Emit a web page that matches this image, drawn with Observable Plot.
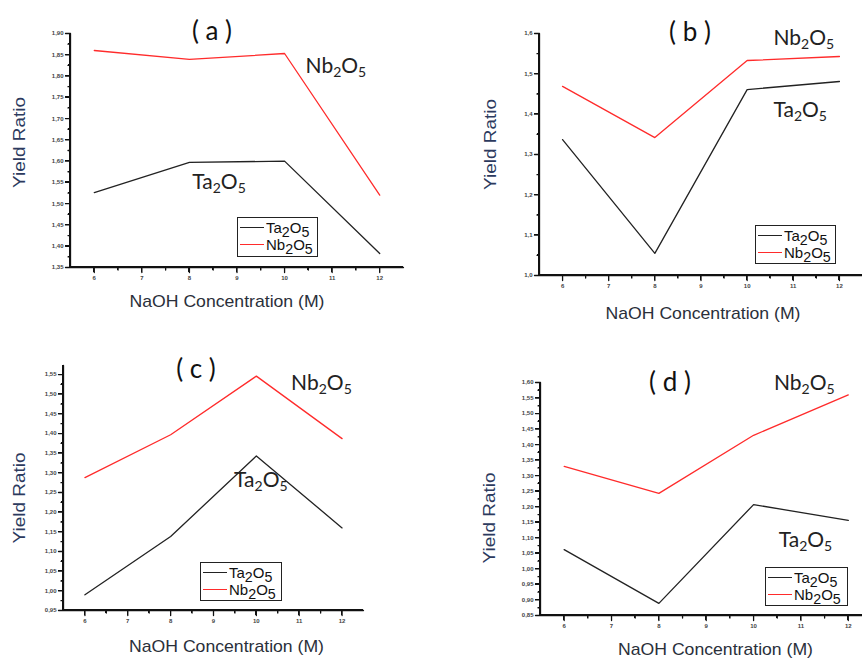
<!DOCTYPE html>
<html><head><meta charset="utf-8">
<script src="https://cdn.jsdelivr.net/npm/d3@7"></script>
<script src="https://cdn.jsdelivr.net/npm/@observablehq/plot@0.6"></script>
<style>
body{margin:0;background:#fff;}
#root{position:relative;width:862px;height:658px;overflow:hidden;background:#fff;font-family:"Liberation Sans",Arial,sans-serif;}
.panel{position:absolute;}
.title{position:absolute;width:80px;height:32px;line-height:32px;text-align:center;font-family:Lato,"Open Sans",sans-serif;font-size:26px;color:#111;white-space:pre;}
.legend{position:absolute;border:1.5px solid #222;background:#fff;box-sizing:border-box;font-size:15px;color:#111;padding:1px 2px;line-height:16px;}
.legend .row{display:flex;align-items:center;height:17px;}
.legend .sw{width:24px;height:0;border-top:1.6px solid;margin-right:2px;}
.legend sub{font-size:95%;vertical-align:-4px;line-height:0;}
.ax{position:absolute;box-sizing:content-box;z-index:5;pointer-events:none;}
</style></head><body><div id="root"></div><script>
// ---- data ----
const concentration = [6, 8, 10, 12];
const ta_a = [1.526, 1.597, 1.600, 1.383];
const nb_a = [1.860, 1.839, 1.853, 1.520];
const ta_b = [1.337, 1.055, 1.461, 1.481];
const nb_b = [1.469, 1.342, 1.533, 1.543];
const ta_c = [0.990, 1.138, 1.343, 1.160];
const nb_c = [1.288, 1.397, 1.546, 1.387];
const ta_d = [1.062, 0.889, 1.207, 1.156];
const nb_d = [1.330, 1.243, 1.430, 1.560];
const seriesNames = ["Ta2O5", "Nb2O5"];
const panelTitles = ["( a )", "( b )", "( c )", "( d )"];
const xTicks = [6, 7, 8, 9, 10, 11, 12];
const yTicks_a = [1.35, 1.40, 1.45, 1.50, 1.55, 1.60, 1.65, 1.70, 1.75, 1.80, 1.85, 1.90];
const yTicks_b = [1.0, 1.1, 1.2, 1.3, 1.4, 1.5, 1.6];
const yTicks_c = [0.95, 1.00, 1.05, 1.10, 1.15, 1.20, 1.25, 1.30, 1.35, 1.40, 1.45, 1.50, 1.55];
const yTicks_d = [0.85, 0.90, 0.95, 1.00, 1.05, 1.10, 1.15, 1.20, 1.25, 1.30, 1.35, 1.40, 1.45, 1.50, 1.55, 1.60];
const xLabel = "NaOH Concentration (M)";
const yLabel = "Yield Ratio";
// annotation labels in data units: [x, y] for Nb2O5, then Ta2O5
const notes_a = [[10.44, 1.822], [8.06, 1.55]];
const notes_b = [[10.57, 1.588], [10.57, 1.409]];
const notes_c = [[10.81, 1.527], [9.48, 1.281]];
const notes_d = [[10.43, 1.597], [10.53, 1.091]];

const COLORS = ["#222222", "#ff2b2b"];
const AXIS = "axis";
const root = document.getElementById("root");

const panels = [
  {ta: ta_a, nb: nb_a, yTicks: yTicks_a, fmt: ".2f", yDomain: [1.35, 1.90], xDomain: [5.5, 12.5], notes: notes_a,
   left: 0, top: 0, width: 430, height: 320, mL: 70, mR: 27, mT: 33, mB: 53,
   yOff: 58, yDy: -8, xOff: 39, xDx: -10,
   title: [212, 30], legend: [237, 217, 81, 40]},
  {ta: ta_b, nb: nb_b, yTicks: yTicks_b, fmt: ".1f", yDomain: [1.0, 1.6], xDomain: [5.5, 12.5], notes: notes_b,
   left: 440, top: 0, width: 422, height: 330, mL: 99, mR: 0, mT: 33, mB: 55,
   yOff: 56, yDy: -10, xOff: 43, xDx: 2,
   title: [690, 31], legend: [755, 225, 81, 39]},
  {ta: ta_c, nb: nb_c, yTicks: yTicks_c, fmt: ".2f", yDomain: [0.95, 1.573], xDomain: [5.5, 12.5], notes: notes_c,
   left: 0, top: 340, width: 430, height: 318, mL: 63, mR: 67, mT: 25, mB: 48,
   yOff: 51, yDy: 10, xOff: 41, xDx: 13,
   title: [196, 368], legend: [200, 562, 82, 39]},
  {ta: ta_d, nb: nb_d, yTicks: yTicks_d, fmt: ".2f", yDomain: [0.85, 1.60], xDomain: [5.5, 12.3], notes: notes_d,
   left: 440, top: 340, width: 422, height: 318, mL: 100, mR: 0, mT: 42, mB: 43,
   yOff: 58, yDy: 19, xOff: 39, xDx: 14,
   title: [670, 381], legend: [765, 567, 83, 39]}
];

function subHTML(s) {
  return s.replace(/(\D)(\d)/g, "$1<sub>$2</sub>");
}
function box(l, t, w, h, css) {
  const d = document.createElement("div");
  d.className = "ax";
  d.style.left = l + "px"; d.style.top = t + "px";
  d.style.width = w + "px"; d.style.height = h + "px";
  Object.assign(d.style, css);
  root.appendChild(d);
}

panels.forEach((p, idx) => {
  const rows = concentration.flatMap((x, i) => [
    {x, y: p.ta[i], s: seriesNames[0]},
    {x, y: p.nb[i], s: seriesNames[1]}
  ]);
  const step = p.yTicks[1] - p.yTicks[0];
  const yMinor = p.yTicks.slice(0, -1).map(v => +(v + step / 2).toFixed(4));
  const xMinor = xTicks.slice(0, -1).map(v => v + 0.5);
  const fmt = v => d3.format(p.fmt)(v).replace(".", ",");
  const notes = [
    {x: p.notes[0][0], y: p.notes[0][1], t: seriesNames[1]},
    {x: p.notes[1][0], y: p.notes[1][1], t: seriesNames[0]}
  ];
  const pxX = (p.width - p.mL - p.mR) / (p.xDomain[1] - p.xDomain[0]);
  const pxY = (p.height - p.mT - p.mB) / (p.yDomain[1] - p.yDomain[0]);
  const x0 = p.xDomain[0], y0 = p.yDomain[0];
  const yAll = [...p.yTicks.map(v => [v, 5]), ...yMinor.map(v => [v, 2.5])].sort((a, b) => b[0] - a[0]);
  const xAll = [...xTicks.map(v => [v, 5]), ...xMinor.map(v => [v, 2.5])]
    .filter(([v]) => v <= p.xDomain[1]).sort((a, b) => a[0] - b[0]);
  const axisPts = [{x: x0, y: p.yDomain[1]}];
  yAll.forEach(([v, len]) => { axisPts.push({x: x0, y: v}, {x: x0 - len / pxX, y: v}, {x: x0, y: v}); });
  axisPts.push({x: x0, y: y0});
  xAll.forEach(([v, len]) => { axisPts.push({x: v, y: y0}, {x: v, y: y0 - len / pxY}, {x: v, y: y0}); });
  axisPts.push({x: p.xDomain[1], y: y0});
  axisPts.forEach(d => { d.s = AXIS; });

  const chart = Plot.plot({
    width: p.width, height: p.height,
    marginLeft: p.mL, marginRight: p.mR, marginTop: p.mT, marginBottom: p.mB,
    style: {fontFamily: "'Liberation Sans', Arial, sans-serif", background: "transparent", overflow: "visible"},
    x: {domain: p.xDomain},
    y: {domain: p.yDomain},
    color: {domain: [...seriesNames, AXIS], range: [...COLORS, "#111111"]},
    marks: [
      Plot.axisY(p.yTicks, {tickSize: 0, tickPadding: 7, tickFormat: fmt, fontSize: 6, fontWeight: "bold",
        fill: "#444", label: null}),
      Plot.axisX(xTicks, {tickSize: 0, tickPadding: 8, tickFormat: d => String(d), fontSize: 6, fontWeight: "bold",
        fill: "#444", label: null}),
      Plot.line(axisPts, {x: "x", y: "y", z: "s", stroke: "s", strokeWidth: 1.3, strokeLinejoin: "round"}),
      Plot.line(rows, {x: "x", y: "y", z: "s", stroke: "s", strokeWidth: 1.3}),
      Plot.text(notes, {x: "x", y: "y", text: "t", textAnchor: "start", lineAnchor: "middle", fontSize: 21,
        fontFamily: "Lato, 'Open Sans', sans-serif", fill: "#222"}),
      Plot.text([yLabel], {frameAnchor: "left", dx: -p.yOff, dy: p.yDy, rotate: -90, text: d => d, fontSize: 17,
        fill: "#2c3a5e", textAnchor: "middle", lineAnchor: "top"}),
      Plot.text([xLabel], {frameAnchor: "bottom", dx: p.xDx, dy: p.xOff, text: d => d, fontSize: 17,
        fill: "#2a2f3a", textAnchor: "middle", lineAnchor: "bottom"})
    ]
  });
  chart.classList.add("panel");
  chart.style.left = p.left + "px";
  chart.style.top = p.top + "px";
  const ns = "http://www.w3.org/2000/svg";
  chart.querySelectorAll("text").forEach(t => {
    const s = t.textContent;
    if (/^(Nb|Ta)2O5$/.test(s)) {
      t.textContent = "";
      const parts = [[s.slice(0, 2), 0], ["2", 4], ["O", -4], ["5", 4]];
      parts.forEach(([str, dy]) => {
        const ts = document.createElementNS(ns, "tspan");
        ts.textContent = str;
        if (dy) ts.setAttribute("dy", dy);
        if (str === "2" || str === "5") ts.setAttribute("font-size", "14");
        t.appendChild(ts);
      });
    } else if (s === yLabel) {
      t.setAttribute("textLength", 91);
      t.setAttribute("lengthAdjust", "spacingAndGlyphs");
    } else if (s === xLabel) {
      t.setAttribute("textLength", 195);
      t.setAttribute("lengthAdjust", "spacingAndGlyphs");
    }
  });
  root.appendChild(chart);

  // axis lines and tick marks overlaid, positioned through the chart's own scales
  const sx = chart.scale("x"), sy = chart.scale("y");
  const fx = p.left + sx.apply(x0), fyTop = p.top + sy.apply(p.yDomain[1]);
  const fyBot = p.top + sy.apply(y0), fxRight = p.left + sx.apply(p.xDomain[1]);
  box(fx - 0.75, fyTop, 0, fyBot - fyTop, {borderLeft: "1.5px solid #111"});
  box(fx - 0.75, fyBot - 0.75, fxRight - fx + 0.75, 0, {borderTop: "1.5px solid #111"});
  yAll.forEach(([v, len]) => {
    const yy = p.top + sy.apply(v);
    box(fx - len, yy - 0.5, len, 0, {borderTop: "1px solid #111"});
  });
  xAll.forEach(([v, len]) => {
    const xx = p.left + sx.apply(v);
    box(xx - 0.5, fyBot, 0, len, {borderLeft: "1px solid #111"});
  });

  const title = document.createElement("div");
  title.className = "title";
  title.textContent = panelTitles[idx];
  title.style.left = (p.title[0] - 40) + "px";
  title.style.top = (p.title[1] - 16) + "px";
  root.appendChild(title);

  const lg = document.createElement("div");
  lg.className = "legend";
  lg.style.left = p.legend[0] + "px";
  lg.style.top = p.legend[1] + "px";
  lg.style.width = p.legend[2] + "px";
  lg.style.height = p.legend[3] + "px";
  lg.innerHTML = seriesNames.map((s, i) =>
    `<div class="row"><span class="sw" style="border-color:${COLORS[i]}"></span><span>${subHTML(s)}</span></div>`).join("");
  root.appendChild(lg);
});
</script></body></html>
